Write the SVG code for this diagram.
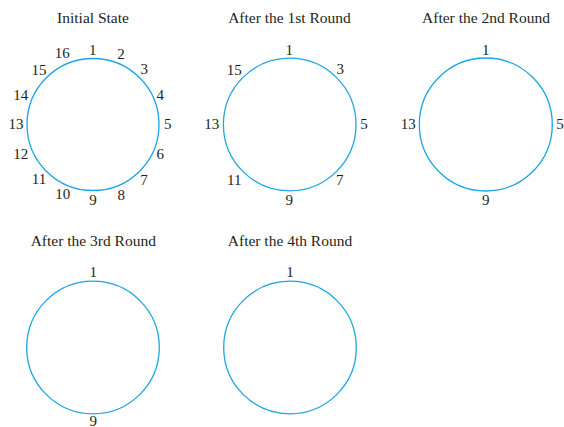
<svg xmlns="http://www.w3.org/2000/svg" width="564" height="427" viewBox="0 0 564 427">
<style>
.bg{fill:#ffffff}
.ring{fill:none;stroke:#1ba5e4;stroke-width:1.3}
.t{font-family:"Liberation Serif","Times New Roman",serif;font-size:15.5px;fill:#231f20;text-anchor:middle}
.n{font-family:"Liberation Serif","Times New Roman",serif;font-size:15px;fill:#231f20;text-anchor:middle}
</style>
<rect class="bg" x="0" y="0" width="564" height="427"/>
<g id="state-initial">
<text class="t" x="93" y="22.5">Initial State</text>
<circle class="ring" cx="93" cy="124.5" r="66"/>
<text class="n" x="92.7" y="54.5">1</text>
<text class="n" x="121" y="59.3">2</text>
<text class="n" x="144.3" y="74">3</text>
<text class="n" x="160.3" y="100">4</text>
<text class="n" x="167.7" y="128.5">5</text>
<text class="n" x="160.3" y="159">6</text>
<text class="n" x="144" y="185">7</text>
<text class="n" x="121.3" y="200">8</text>
<text class="n" x="93" y="204.5">9</text>
<text class="n" x="62.7" y="199.3">10</text>
<text class="n" x="39" y="184.3">11</text>
<text class="n" x="20.7" y="158.7">12</text>
<text class="n" x="16" y="129">13</text>
<text class="n" x="20.7" y="100">14</text>
<text class="n" x="39" y="75">15</text>
<text class="n" x="62.3" y="58.3">16</text>
</g>
<g id="state-round1">
<text class="t" x="289.5" y="22.5">After the 1st Round</text>
<circle class="ring" cx="289.7" cy="124.5" r="66.3"/>
<text class="n" x="289.3" y="55">1</text>
<text class="n" x="340.3" y="74">3</text>
<text class="n" x="364" y="129">5</text>
<text class="n" x="339.7" y="185.3">7</text>
<text class="n" x="289.3" y="205">9</text>
<text class="n" x="234.3" y="185">11</text>
<text class="n" x="211.7" y="129">13</text>
<text class="n" x="234.3" y="75">15</text>
</g>
<g id="state-round2">
<text class="t" x="486" y="22.5">After the 2nd Round</text>
<circle class="ring" cx="485.8" cy="124.5" r="66.5"/>
<text class="n" x="485.7" y="55">1</text>
<text class="n" x="560" y="129">5</text>
<text class="n" x="485.7" y="205">9</text>
<text class="n" x="408.3" y="129">13</text>
</g>
<g id="state-round3">
<text class="t" x="93.3" y="245.7">After the 3rd Round</text>
<circle class="ring" cx="93" cy="347.5" r="66.3"/>
<text class="n" x="93.3" y="276.7">1</text>
<text class="n" x="93.3" y="426">9</text>
</g>
<g id="state-round4">
<text class="t" x="290" y="245.7">After the 4th Round</text>
<circle class="ring" cx="290" cy="347.5" r="66.3"/>
<text class="n" x="290" y="276.7">1</text>
</g>
<g id="connectors"></g>
</svg>
